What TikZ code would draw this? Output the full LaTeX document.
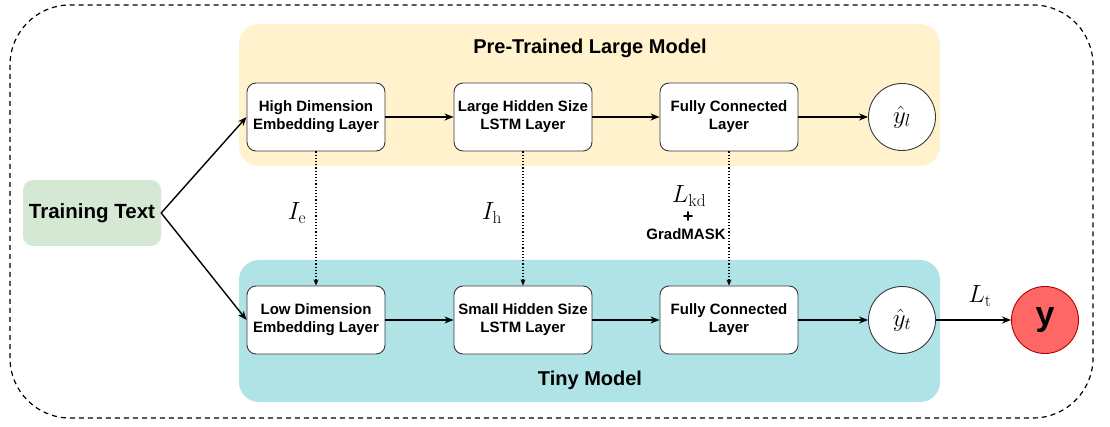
\documentclass[tikz,border=0pt]{standalone}
\usepackage[no-math]{fontspec}
\setmainfont{Liberation Sans}
\usetikzlibrary{arrows.meta}
\definecolor{ylw}{HTML}{FFF2CC}
\definecolor{cyn}{HTML}{B0E3E6}
\definecolor{grn}{HTML}{D5E8D4}
\definecolor{redf}{HTML}{FF6666}
\definecolor{redb}{HTML}{B20000}
\definecolor{bord}{HTML}{36393D}
\tikzset{
  layerbox/.style={draw=bord, line width=0.9pt, fill=white, rounded corners=9pt,
    minimum width=138pt, minimum height=68pt, align=center, inner sep=1pt,
    font=\fontsize{15}{18}\selectfont\bfseries},
  outcirc/.style={draw=bord, line width=0.9pt, fill=white, circle, minimum size=67pt, inner sep=0pt,
    font=\fontsize{27}{29}\selectfont},
  arr/.style={line width=1.4pt, -{Stealth[length=9pt,width=7pt]}},
  dotarr/.style={line width=1.2pt, dotted, -{Stealth[length=6pt,width=5pt]}},
  mlabel/.style={font=\fontsize{26}{28}\selectfont, inner sep=0pt},
  titletext/.style={font=\fontsize{20}{24}\selectfont\bfseries, inner sep=0pt},
}
\begin{document}
\begin{tikzpicture}[x=1pt,y=-1pt]
\useasboundingbox (0,0) rectangle (1110,427);
% outer dashed frame
\draw[line width=1.2pt, dash pattern=on 5pt off 4pt, rounded corners=60pt] (10,5) rectangle (1093,418);
% model backgrounds
\fill[ylw, rounded corners=20pt] (239,24) rectangle (940,166);
\fill[cyn, rounded corners=20pt] (239,260) rectangle (940,402);
\node[titletext] (tlarge) at (590,48) {Pre-Trained Large Model};
\node[titletext] (ttiny) at (590,380) {Tiny Model};
% training text
\node[fill=grn, rounded corners=10pt, minimum width=138pt, minimum height=66pt, inner sep=0pt,
  font=\fontsize{20.5}{24}\selectfont\bfseries] (train) at (92,213) {Training Text};
% large model layers
\node[layerbox] (hemb) at (316,117) {High Dimension\\Embedding Layer};
\node[layerbox] (hlstm) at (523,117) {Large Hidden Size\\LSTM Layer};
\node[layerbox] (hfc) at (729,117) {Fully Connected\\Layer};
\node[outcirc] (yl) at (902,117) {$\hat{y}_l$};
% tiny model layers
\node[layerbox] (lemb) at (316,320) {Low Dimension\\Embedding Layer};
\node[layerbox] (llstm) at (523,320) {Small Hidden Size\\LSTM Layer};
\node[layerbox] (lfc) at (729,320) {Fully Connected\\Layer};
\node[outcirc] (yt) at (902,320) {$\hat{y}_t$};
\node[draw=redb, line width=0.9pt, fill=redf, circle, minimum size=67pt, inner sep=0pt,
  font=\fontsize{34}{36}\selectfont\bfseries] (y) at (1045,320) {y};
% connectors
\draw[arr] (train.east) -- (hemb.west);
\draw[arr] (train.east) -- (lemb.west);
\draw[arr] (hemb) -- (hlstm);
\draw[arr] (hlstm) -- (hfc);
\draw[arr] (hfc) -- (yl);
\draw[arr] (lemb) -- (llstm);
\draw[arr] (llstm) -- (lfc);
\draw[arr] (lfc) -- (yt);
\draw[arr] (yt.east) -- (y.west);
\draw[dotarr] (hemb) -- (lemb);
\draw[dotarr] (hlstm) -- (llstm);
\draw[dotarr] (hfc) -- (lfc);
% labels
\node[mlabel] (le) at (297,213) {$I_{\mathrm{e}}$};
\node[mlabel] (lh) at (492,213) {$I_{\mathrm{h}}$};
\node[mlabel] (lkd) at (689,196) {$L_{\mathrm{kd}}$};
\node[font=\fontsize{18}{20}\selectfont\bfseries, inner sep=0pt] (plus) at (688,217) {+};
\node[font=\fontsize{15}{17}\selectfont\bfseries, inner sep=0pt] (gm) at (686,234) {GradMASK};
\node[mlabel] (lt) at (980,296) {$L_{\mathrm{t}}$};
\end{tikzpicture}
\end{document}
